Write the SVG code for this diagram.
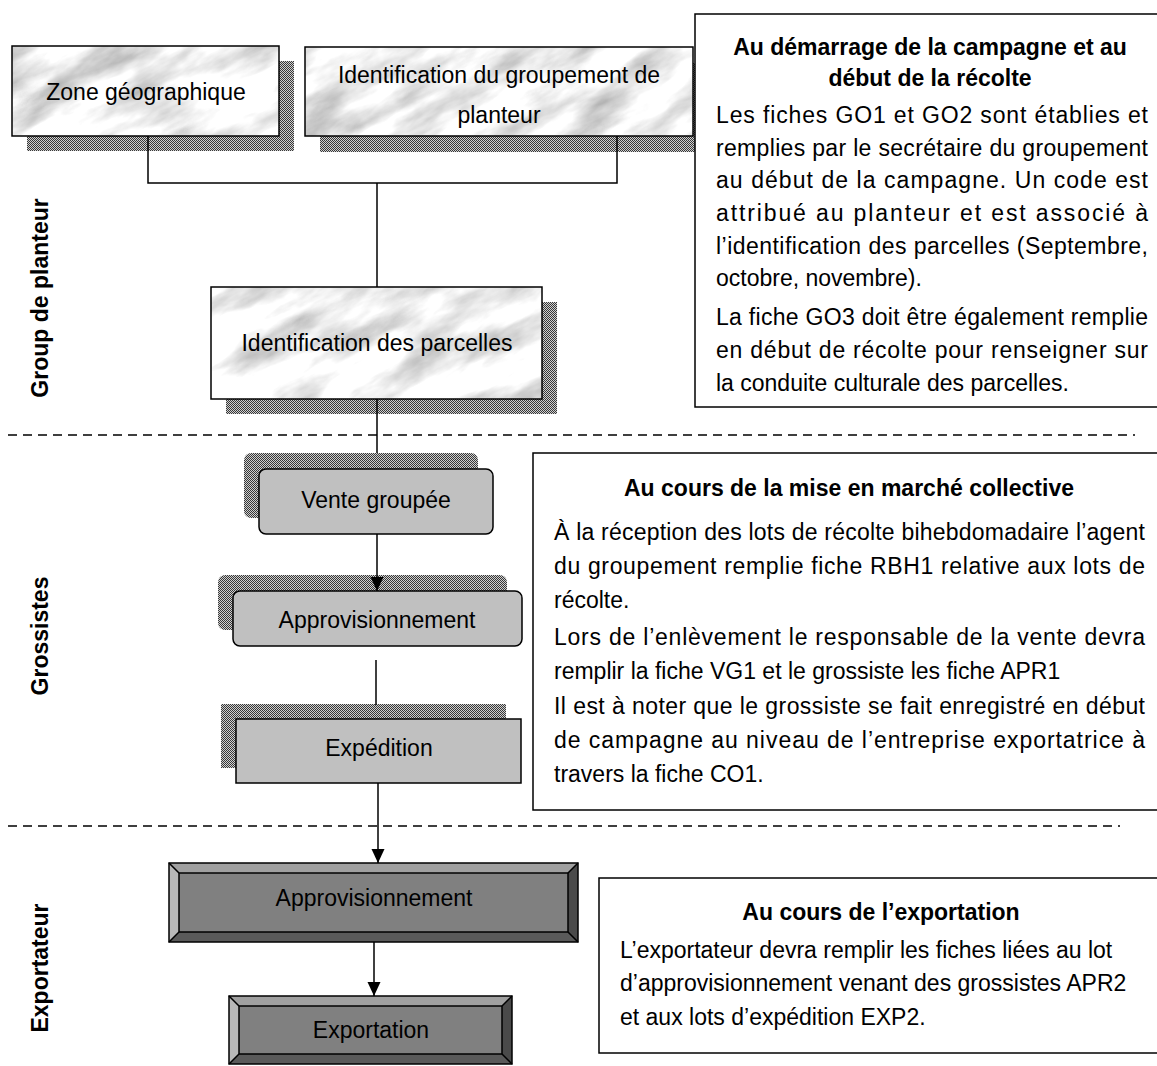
<svg xmlns="http://www.w3.org/2000/svg" width="1157" height="1066" viewBox="0 0 1157 1066">
<style>
.t{font-family:"Liberation Sans",Arial,sans-serif;font-size:23px;fill:#000}
.b{font-weight:bold}
.m{text-anchor:middle}
.edge{fill:none;stroke:#000;stroke-width:1.5}
.conn{fill:none;stroke:#000;stroke-width:1.5}
.dash{fill:none;stroke:#000;stroke-width:1.5;stroke-dasharray:9 6}
.sh{fill:url(#dither)}
.grey{fill:#c0c0c0;stroke:#000;stroke-width:1.5}
.note{fill:#fff;stroke:#000;stroke-width:1.5}
.mb{fill:#fff;filter:url(#marble)}
</style>
<defs>
<pattern id="dither" width="2" height="2" patternUnits="userSpaceOnUse">
<rect width="2" height="2" fill="#d0d0d0"/>
<rect width="1" height="1" fill="#383838"/>
<rect x="1" y="1" width="1" height="1" fill="#383838"/>
</pattern>
<filter id="marble" x="0" y="0" width="1" height="1" color-interpolation-filters="sRGB">
<feTurbulence type="fractalNoise" baseFrequency="0.011 0.032" numOctaves="5" seed="11"/>
<feColorMatrix type="matrix" values="-0.7 0 0 0 1.3 -0.7 0 0 0 1.3 -0.7 0 0 0 1.3 0 0 0 0 1"/>
</filter>
<clipPath id="cZone"><rect x="12" y="46" width="267" height="90"/></clipPath>
<clipPath id="cGroup"><rect x="305" y="47" width="388" height="89"/></clipPath>
<clipPath id="cParc"><rect x="211" y="287" width="331" height="112"/></clipPath>
<marker id="arr" markerWidth="14" markerHeight="14" refX="14" refY="6.5" orient="auto" markerUnits="userSpaceOnUse">
<path d="M0,0 L14,6.5 L0,13 z" fill="#000"/>
</marker>
</defs>
<rect width="1157" height="1066" fill="#fff"/>

<g id="separators">
<line class="dash" x1="8" y1="435" x2="1135" y2="435"/>
<line class="dash" x1="8" y1="826" x2="1120" y2="826"/>
</g>

<g id="lane-labels">
<text class="t b m" transform="translate(48,298) rotate(-90)">Group de planteur</text>
<text class="t b m" transform="translate(48,636) rotate(-90)">Grossistes</text>
<text class="t b m" transform="translate(48,968) rotate(-90)">Exportateur</text>
</g>

<g id="node-zone">
<rect class="sh" x="27" y="61" width="267" height="90"/>
<g clip-path="url(#cZone)"><rect class="mb" x="-64" y="-69" width="420" height="320" transform="rotate(-28 146 91)"/></g>
<rect class="edge" x="12" y="46" width="267" height="90"/>
<text class="t m" x="146" y="100">Zone géographique</text>
</g>

<g id="node-groupement">
<rect class="sh" x="320" y="63" width="388" height="89"/>
<g clip-path="url(#cGroup)"><rect class="mb" x="269" y="-119" width="460" height="420" transform="rotate(-28 499 91)"/></g>
<rect class="edge" x="305" y="47" width="388" height="89"/>
<text class="t m" x="499" y="83">Identification du groupement de</text>
<text class="t m" x="499" y="123">planteur</text>
</g>

<g id="node-parcelles">
<rect class="sh" x="226" y="302" width="331" height="112"/>
<g clip-path="url(#cParc)"><rect class="mb" x="176" y="153" width="400" height="380" transform="rotate(-28 376 343)"/></g>
<rect class="edge" x="211" y="287" width="331" height="112"/>
<text class="t m" x="377" y="351">Identification des parcelles</text>
</g>

<g id="node-vente">
<rect class="sh" x="244" y="453" width="234" height="65" rx="7"/>
<rect class="grey" x="259" y="469" width="234" height="65" rx="7"/>
<text class="t m" x="376" y="508">Vente groupée</text>
</g>

<g id="node-appro-grossiste">
<rect class="sh" x="218" y="575" width="289" height="55" rx="7"/>
<rect class="grey" x="233" y="591" width="289" height="55" rx="7"/>
<text class="t m" x="377" y="628">Approvisionnement</text>
</g>

<g id="node-expedition">
<rect class="sh" x="221" y="704" width="285" height="64"/>
<rect class="grey" x="236" y="719" width="285" height="64"/>
<text class="t m" x="379" y="756">Expédition</text>
</g>

<g id="node-appro-export">
<rect x="169" y="863" width="409" height="79" fill="#808080"/>
<polygon points="169,863 578,863 568,873 179,873" fill="#a0a0a0"/>
<polygon points="169,863 179,873 179,932 169,942" fill="#b8b8b8"/>
<polygon points="578,863 578,942 568,932 568,873" fill="#4a4a4a"/>
<polygon points="169,942 179,932 568,932 578,942" fill="#5a5a5a"/>
<rect class="edge" x="169" y="863" width="409" height="79"/>
<rect class="edge" x="179" y="873" width="389" height="59" stroke-width="1.2"/>
<path class="edge" d="M169,863 L179,873 M578,863 L568,873 M169,942 L179,932 M578,942 L568,932" stroke-width="1"/>
<text class="t m" x="374" y="906">Approvisionnement</text>
</g>

<g id="node-exportation">
<rect x="229" y="996" width="283" height="68" fill="#808080"/>
<polygon points="229,996 512,996 502,1006 239,1006" fill="#a0a0a0"/>
<polygon points="229,996 239,1006 239,1054 229,1064" fill="#b8b8b8"/>
<polygon points="512,996 512,1064 502,1054 502,1006" fill="#4a4a4a"/>
<polygon points="229,1064 239,1054 502,1054 512,1064" fill="#5a5a5a"/>
<rect class="edge" x="229" y="996" width="283" height="68"/>
<rect class="edge" x="239" y="1006" width="263" height="48" stroke-width="1.2"/>
<path class="edge" d="M229,996 L239,1006 M512,996 L502,1006 M229,1064 L239,1054 M512,1064 L502,1054" stroke-width="1"/>
<text class="t m" x="371" y="1038">Exportation</text>
</g>

<g id="connectors">
<polyline class="conn" points="148,136 148,183 617,183 617,136"/>
<line class="conn" x1="377" y1="183" x2="377" y2="287"/>
<line class="conn" x1="377" y1="399" x2="377" y2="453"/>
<line class="conn" x1="377" y1="534" x2="377" y2="591" marker-end="url(#arr)"/>
<line class="conn" x1="376" y1="660" x2="376" y2="705"/>
<line class="conn" x1="378" y1="783" x2="378" y2="863" marker-end="url(#arr)"/>
<line class="conn" x1="374" y1="942" x2="374" y2="996" marker-end="url(#arr)"/>
</g>

<g id="note-demarrage">
<rect class="note" x="695" y="14" width="480" height="393"/>
<text class="t b m" x="930" y="55">Au démarrage de la campagne et au</text>
<text class="t b m" x="930" y="86">début de la récolte</text>
<text class="t" x="716" y="123" textLength="432" lengthAdjust="spacing">Les fiches GO1 et GO2 sont établies et</text>
<text class="t" x="716" y="156" textLength="432" lengthAdjust="spacing">remplies par le secrétaire du groupement</text>
<text class="t" x="716" y="188" textLength="432" lengthAdjust="spacing">au début de la campagne. Un code est</text>
<text class="t" x="716" y="221" textLength="432" lengthAdjust="spacing">attribué au planteur et est associé à</text>
<text class="t" x="716" y="254" textLength="432" lengthAdjust="spacing">l’identification des parcelles (Septembre,</text>
<text class="t" x="716" y="286">octobre, novembre).</text>
<text class="t" x="716" y="325" textLength="432" lengthAdjust="spacing">La fiche GO3 doit être également remplie</text>
<text class="t" x="716" y="358" textLength="432" lengthAdjust="spacing">en début de récolte pour renseigner sur</text>
<text class="t" x="716" y="391">la conduite culturale des parcelles.</text>
</g>

<g id="note-marche">
<rect class="note" x="533" y="453" width="640" height="357"/>
<text class="t b m" x="849" y="496">Au cours de la mise en marché collective</text>
<text class="t" x="554" y="540" textLength="591" lengthAdjust="spacing">À la réception des lots de récolte bihebdomadaire l’agent</text>
<text class="t" x="554" y="574" textLength="591" lengthAdjust="spacing">du groupement remplie fiche RBH1 relative aux lots de</text>
<text class="t" x="554" y="608">récolte.</text>
<text class="t" x="554" y="645" textLength="591" lengthAdjust="spacing">Lors de l’enlèvement le responsable de la vente devra</text>
<text class="t" x="554" y="679">remplir la fiche VG1 et le grossiste les fiche APR1</text>
<text class="t" x="554" y="714" textLength="591" lengthAdjust="spacing">Il est à noter que le grossiste se fait enregistré en début</text>
<text class="t" x="554" y="748" textLength="591" lengthAdjust="spacing">de campagne au niveau de l’entreprise exportatrice à</text>
<text class="t" x="554" y="782">travers la fiche CO1.</text>
</g>

<g id="note-exportation">
<rect class="note" x="599" y="878" width="575" height="175"/>
<text class="t b m" x="881" y="920">Au cours de l’exportation</text>
<text class="t" x="620" y="958">L’exportateur devra remplir les fiches liées au lot</text>
<text class="t" x="620" y="991">d’approvisionnement venant des grossistes APR2</text>
<text class="t" x="620" y="1025">et aux lots d’expédition EXP2.</text>
</g>
</svg>
